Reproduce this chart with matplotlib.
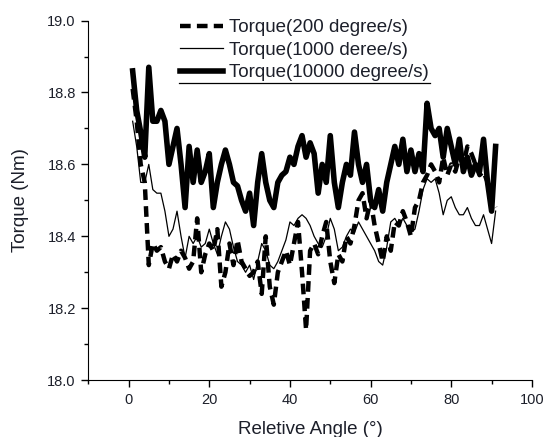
import matplotlib
matplotlib.use('Agg')
import matplotlib.pyplot as plt
from matplotlib.ticker import MultipleLocator
from matplotlib.lines import Line2D

plt.rcParams['font.family'] = ['Liberation Sans', 'DejaVu Sans']

angle = list(range(1, 92))

# Torque at 200 degree/s
torque_200 = [18.81, 18.72, 18.60, 18.55, 18.32, 18.38, 18.36, 18.37, 18.33, 18.31,
              18.35, 18.33, 18.36, 18.34, 18.31, 18.33, 18.45, 18.30, 18.35, 18.38,
              18.36, 18.42, 18.26, 18.30, 18.38, 18.32, 18.39, 18.33, 18.31, 18.29,
              18.30, 18.33, 18.24, 18.40, 18.26, 18.21, 18.30, 18.33, 18.36, 18.32,
              18.38, 18.44, 18.30, 18.14, 18.36, 18.38, 18.35, 18.40, 18.44, 18.33,
              18.27, 18.35, 18.33, 18.40, 18.38, 18.43, 18.50, 18.52, 18.45, 18.50,
              18.43, 18.38, 18.33, 18.40, 18.36, 18.44, 18.43, 18.47, 18.44, 18.40,
              18.48, 18.50, 18.55, 18.57, 18.60, 18.58, 18.55, 18.62, 18.57, 18.60,
              18.58, 18.62, 18.60, 18.65, 18.63, 18.60, 18.57, 18.58, 18.55, 18.50,
              18.48]

# Torque at 1000 degree/s
torque_1000 = [18.72, 18.65, 18.55, 18.55, 18.60, 18.53, 18.52, 18.52, 18.47, 18.40,
               18.42, 18.47, 18.40, 18.34, 18.40, 18.38, 18.40, 18.37, 18.38, 18.42,
               18.38, 18.35, 18.40, 18.44, 18.42, 18.37, 18.33, 18.32, 18.30, 18.32,
               18.28, 18.33, 18.38, 18.36, 18.32, 18.31, 18.33, 18.36, 18.39, 18.44,
               18.43, 18.45, 18.46, 18.45, 18.43, 18.40, 18.38, 18.37, 18.40, 18.45,
               18.42, 18.36, 18.37, 18.40, 18.42, 18.41, 18.44, 18.42, 18.40, 18.38,
               18.36, 18.33, 18.32, 18.37, 18.44, 18.45, 18.43, 18.45, 18.43, 18.41,
               18.42, 18.47, 18.53, 18.56, 18.55, 18.56, 18.52, 18.46, 18.50, 18.51,
               18.48, 18.46, 18.46, 18.48, 18.45, 18.43, 18.43, 18.46, 18.42, 18.38,
               18.47]

# Torque at 10000 degree/s
torque_10000 = [18.86, 18.75, 18.69, 18.62, 18.87, 18.72, 18.72, 18.75, 18.72, 18.60,
                18.65, 18.70, 18.60, 18.48, 18.65, 18.55, 18.64, 18.55, 18.58, 18.63,
                18.48, 18.55, 18.60, 18.64, 18.60, 18.55, 18.54, 18.50, 18.47, 18.52,
                18.43, 18.55, 18.63, 18.55, 18.50, 18.48, 18.55, 18.57, 18.58, 18.62,
                18.60, 18.65, 18.68, 18.62, 18.66, 18.63, 18.52, 18.60, 18.55, 18.68,
                18.55, 18.48, 18.55, 18.60, 18.57, 18.69, 18.60, 18.55, 18.60, 18.50,
                18.48, 18.53, 18.47, 18.55, 18.60, 18.65, 18.60, 18.67, 18.58, 18.64,
                18.58, 18.63, 18.58, 18.77, 18.70, 18.68, 18.70, 18.62, 18.70, 18.65,
                18.60, 18.67, 18.58, 18.62, 18.57, 18.60, 18.58, 18.67, 18.55, 18.47,
                18.65]

labels = ['Torque(200 degree/s)', 'Torque(1000 deree/s)', 'Torque(10000 degree/s)']
txt = '#1c1f2a'

fig = plt.figure(figsize=(5.45, 4.37), dpi=100)
ax = fig.add_axes([0.162, 0.130, 0.814, 0.823])

ax.plot(angle, torque_200, color='black', lw=3.2, ls=(0, (2.4, 1.4)), label=labels[0])
ax.plot(angle, torque_1000, color='black', lw=0.9, label=labels[1])
ax.plot(angle, torque_10000, color='black', lw=4.0, label=labels[2])

ax.set_xlim(-10, 100)
ax.set_ylim(18.0, 19.0)
ax.xaxis.set_major_locator(MultipleLocator(20))
ax.xaxis.set_minor_locator(MultipleLocator(10))
ax.yaxis.set_major_locator(MultipleLocator(0.2))
ax.yaxis.set_minor_locator(MultipleLocator(0.1))
ax.tick_params(which='major', direction='out', length=5, width=1, pad=4,
               labelsize=10.5, colors='black', labelcolor=txt)
ax.tick_params(which='minor', direction='out', length=3, width=1)
ax.spines['top'].set_visible(False)
ax.spines['right'].set_visible(False)
ax.set_xlabel('Reletive Angle (°)', fontsize=13.5, color=txt, labelpad=10)
ax.set_ylabel('Torque (Nm)', fontsize=13.5, color=txt, labelpad=13)

leg = ax.legend(loc='upper left', bbox_to_anchor=(0.19, 1.025), frameon=False,
                fontsize=13.5, handlelength=2.3, handletextpad=0.3, labelspacing=0.29,
                borderaxespad=0)
for t in leg.get_texts():
    t.set_color(txt)
ax.add_line(Line2D([0.204, 0.770], [0.827, 0.827], transform=ax.transAxes,
                   color='black', lw=0.9, clip_on=False))

fig.savefig('out.png', dpi=100)
